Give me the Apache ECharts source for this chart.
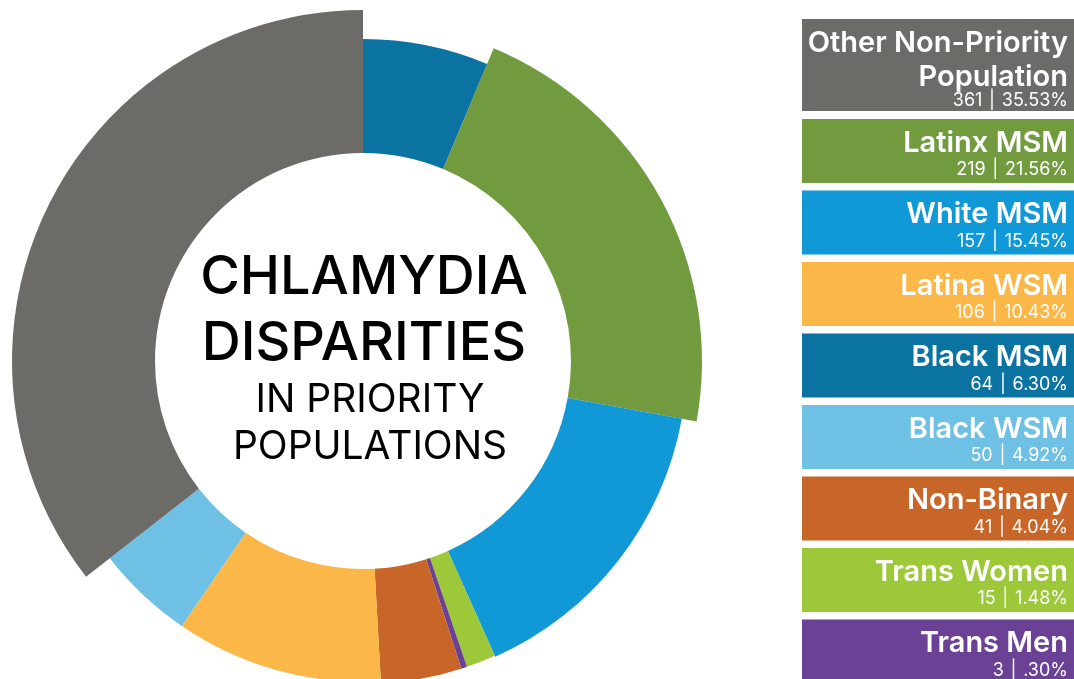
<!DOCTYPE html>
<html>
<head>
<meta charset="utf-8">
<script src="https://cdn.jsdelivr.net/npm/echarts@6/dist/echarts.min.js"></script>
<style>
html,body{margin:0;padding:0;background:#fff;}
#chart{width:1074px;height:679px;}
</style>
</head>
<body>
<div id="chart"></div>
<script>
// ---- data (clockwise order from 12 o'clock) ----
const categories = ['Black MSM', 'Latinx MSM', 'White MSM', 'Trans Women', 'Trans Men', 'Non-Binary', 'Latina WSM', 'Black WSM', 'Other Non-Priority Population'];
const values = [64, 219, 157, 15, 3, 41, 106, 50, 361];
const pctLabels = ['6.30%', '21.56%', '15.45%', '1.48%', '.30%', '4.04%', '10.43%', '4.92%', '35.53%'];
const legendOrder = [8, 1, 2, 6, 0, 7, 5, 3, 4];
const titleLines = ['CHLAMYDIA', 'DISPARITIES', 'IN PRIORITY', 'POPULATIONS'];

// ---- styles ----
const colors = ['#0a73a1', '#729b3f', '#1198d6', '#9cc83a', '#6b4196', '#c8662a', '#fbb848', '#6ec0e4', '#6d6b67'];
const outerRadii = [322, 339, 324, 323, 323, 323, 321, 321, 351];
const innerRadius = 208;
const center = [363, 361];
const FONT = 'Inter, "Noto Sans", sans-serif';

const chart = echarts.init(document.getElementById('chart'), null, {renderer: 'canvas'});

const series = categories.map((c, i) => ({
  type: 'pie',
  center: center,
  radius: [innerRadius, outerRadii[i]],
  startAngle: 90,
  clockwise: true,
  silent: true,
  animation: false,
  label: {show: false},
  labelLine: {show: false},
  itemStyle: {borderWidth: 0},
  data: values.map((v, j) => ({
    value: v,
    name: categories[j],
    itemStyle: {color: j === i ? colors[i] : 'rgba(0,0,0,0)', borderWidth: 0}
  }))
}));

const graphics = [];
// center title
const titleSizes = [54, 54, 39, 39];
const titleWeights = [500, 500, 400, 400];
const titleX = [364, 364, 370, 370];
const titleMid = [278, 344, 400, 447];
titleLines.forEach((t, k) => {
  graphics.push({
    type: 'text', silent: true,
    style: {
      text: t, x: titleX[k], y: titleMid[k],
      font: `${titleWeights[k]} ${titleSizes[k]}px ${FONT}`,
      fill: '#000', textAlign: 'center', align: 'center', textVerticalAlign: 'middle', verticalAlign: 'middle'
    }
  });
});

// wrap long legend names onto two lines (layout only)
function wrapName(s) {
  if (s.length <= 20) return s;
  const p = s.lastIndexOf(' ');
  return s.slice(0, p) + '\n' + s.slice(p + 1);
}

// legend boxes
const boxX = 802, boxW = 272;
let y = 19;
legendOrder.forEach((idx, k) => {
  const tall = k === 0;
  const h = tall ? 92 : 64;
  graphics.push({
    type: 'rect', silent: true,
    shape: {x: boxX, y: y, width: boxW, height: h},
    style: {fill: colors[idx]}
  });
  graphics.push({
    type: 'text', silent: true,
    style: {
      text: wrapName(categories[idx]), x: 1068, y: y + 7,
      lineHeight: 34,
      font: `600 29px ${FONT}`, fill: '#fff',
      textAlign: 'right', align: 'right', textVerticalAlign: 'top', verticalAlign: 'top'
    }
  });
  graphics.push({
    type: 'text', silent: true,
    style: {
      text: values[idx] + ' \u200a|\u200a ' + pctLabels[idx], x: 1068, y: tall ? y + 82 : y + 51,
      font: `400 18px ${FONT}`, fill: '#fff',
      textAlign: 'right', align: 'right', textVerticalAlign: 'middle', verticalAlign: 'middle'
    }
  });
  y += h + (tall ? 8 : 7.5);
});

chart.setOption({
  backgroundColor: '#fff',
  animation: false,
  series: series,
  graphic: {elements: graphics}
});
</script>
</body>
</html>
